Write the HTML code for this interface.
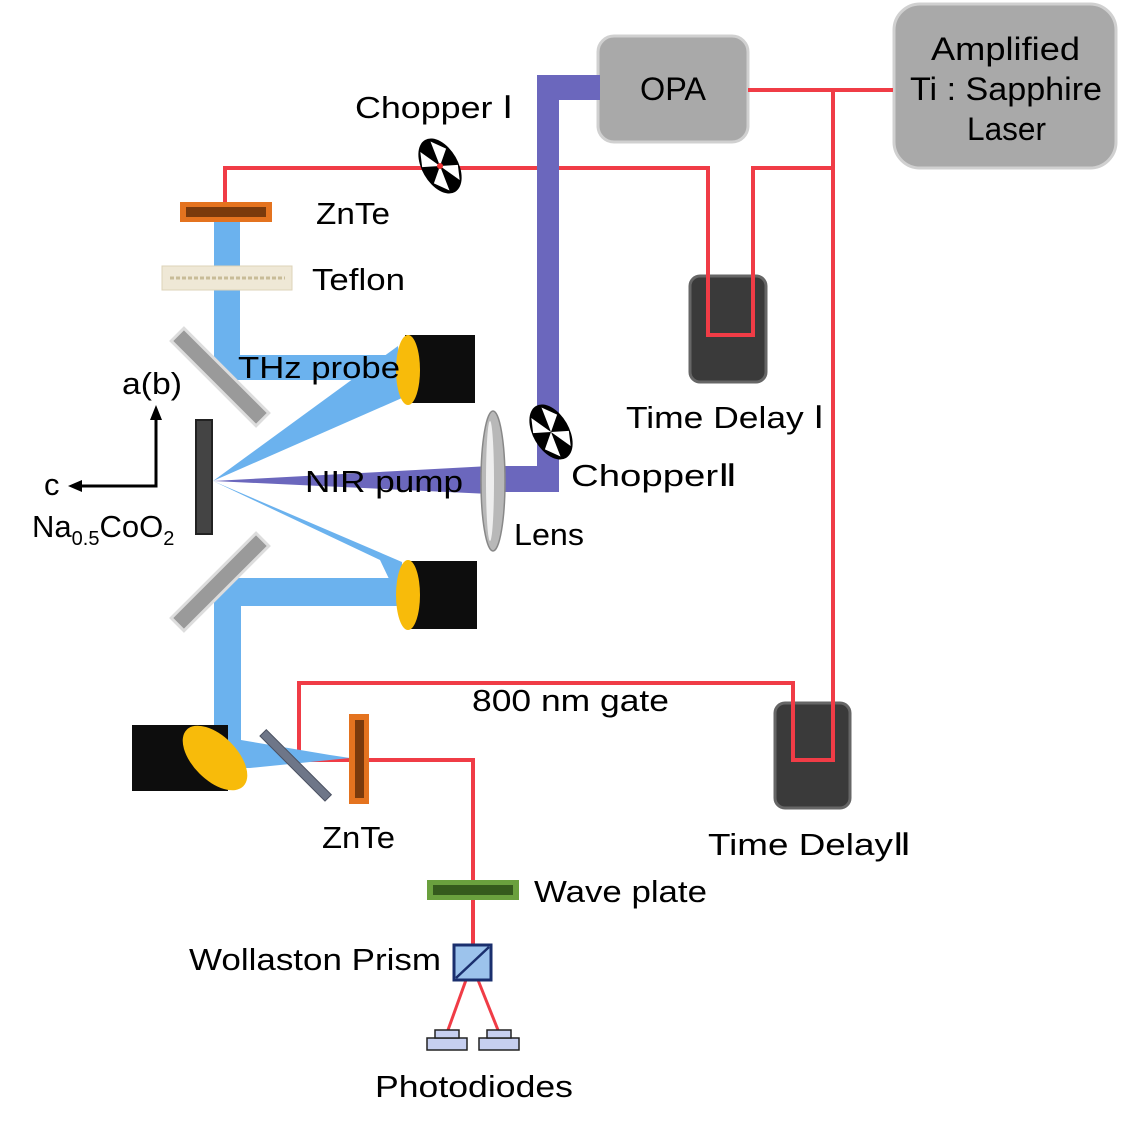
<!DOCTYPE html>
<html><head><meta charset="utf-8"><style>
html,body{margin:0;padding:0;background:#fff}
svg{display:block}
text{font-family:"Liberation Sans","DejaVu Sans",sans-serif;fill:#000}
</style></head><body>
<svg width="1134" height="1125" viewBox="0 0 1134 1125" xmlns="http://www.w3.org/2000/svg">
<rect x="598" y="36" width="150" height="106" rx="16" fill="#a9a9a9" stroke="#d0d0d0" stroke-width="3"/>
<text x="640" y="100" font-size="32" textLength="66" lengthAdjust="spacingAndGlyphs">OPA</text>
<rect x="894" y="4" width="222" height="164" rx="26" fill="#a9a9a9" stroke="#d0d0d0" stroke-width="3"/>
<text x="931" y="60" font-size="32" textLength="149" lengthAdjust="spacingAndGlyphs">Amplified</text>
<text x="910" y="100" font-size="32" textLength="192" lengthAdjust="spacingAndGlyphs">Ti : Sapphire</text>
<text x="967" y="140" font-size="32" textLength="79" lengthAdjust="spacingAndGlyphs">Laser</text>

<rect x="690" y="276" width="76" height="106" rx="10" fill="#3a3a3a" stroke="#666" stroke-width="3"/>
<rect x="775" y="703" width="75" height="105" rx="10" fill="#3a3a3a" stroke="#666" stroke-width="3"/>

<g fill="none" stroke="#f03c46" stroke-width="4">
<polyline points="748,90 893,90"/>
<polyline points="833,90 833,760 793,760 793,683 299,683 299,760 473,760 473,945"/>
<polyline points="225,205 225,168 708,168 708,335 753,335 753,168 833,168"/>
<line x1="466" y1="980" x2="448" y2="1030" stroke-width="3"/>
<line x1="478" y1="980" x2="498" y2="1030" stroke-width="3"/>
</g>

<path d="M600,75 L537,75 L537,466 L490,466 L490,492 L559,492 L559,100 L600,100 Z" fill="#6b67bd"/>
<polygon points="213,481 490,466 490,494" fill="#6b67bd"/>

<g fill="#6bb2ee">
<rect x="214" y="222" width="26" height="158"/>
<rect x="214" y="355" width="190" height="25"/>
<polygon points="213,481 398,346 402,398"/>
<polygon points="213,481 402,562 402,606 380,560"/>
<rect x="214" y="578" width="190" height="28"/>
<rect x="214" y="590" width="27" height="165"/>
<polygon points="214,745 241,740 330,755 350,758 250,768 214,768"/>
</g>

<rect x="180" y="202" width="92" height="20" fill="#e4731f"/>
<rect x="186" y="207" width="80" height="10" fill="#7a3a0c"/>
<rect x="162" y="266" width="130" height="24" fill="#efe8d6" stroke="#ddd3b8"/>
<line x1="170" y1="278" x2="285" y2="278" stroke="#c8bc98" stroke-width="3" stroke-dasharray="4 2"/>

<rect x="160" y="368" width="120" height="18" fill="#9a9a9a" stroke="#ddd" stroke-width="3" transform="rotate(45 220 377)"/>
<rect x="160" y="573" width="120" height="18" fill="#9a9a9a" stroke="#ddd" stroke-width="3" transform="rotate(-45 220 582)"/>
<rect x="196" y="420" width="16" height="114" fill="#444" stroke="#222" stroke-width="2"/>
<rect x="250" y="761" width="92" height="9" fill="#6e7688" stroke="#4a5060" transform="rotate(45 296 765)"/>

<rect x="405" y="335" width="70" height="68" fill="#0d0d0d"/>
<ellipse cx="408" cy="370" rx="12" ry="35" fill="#f8bb0a"/>
<rect x="405" y="561" width="72" height="68" fill="#0d0d0d"/>
<ellipse cx="408" cy="595" rx="12" ry="35" fill="#f8bb0a"/>
<rect x="132" y="725" width="96" height="66" fill="#0d0d0d"/>
<ellipse cx="215" cy="758" rx="22" ry="40" fill="#f8bb0a" transform="rotate(-45 215 758)"/>

<ellipse cx="493" cy="481" rx="12" ry="70" fill="#b8b8b8" stroke="#888" stroke-width="1.5"/>
<ellipse cx="490" cy="481" rx="4" ry="60" fill="#eee"/>

<g transform="translate(440,166) rotate(-30)">
<ellipse rx="18" ry="30" fill="#000"/>
<path d="M0,0 L-16,-8 L-10,-22 Z M0,0 L16,8 L10,22 Z" fill="#fff"/>
<path d="M0,0 L4,-26 L14,-12 Z M0,0 L-4,26 L-14,12 Z" fill="#fff"/>
<circle r="3" fill="#e33"/>
</g>
<g transform="translate(551,432) rotate(-30)">
<ellipse rx="18" ry="30" fill="#000"/>
<path d="M0,0 L-16,-8 L-10,-22 Z M0,0 L16,8 L10,22 Z" fill="#fff"/>
<path d="M0,0 L4,-26 L14,-12 Z M0,0 L-4,26 L-14,12 Z" fill="#fff"/>
</g>

<rect x="349" y="714" width="20" height="90" fill="#e4731f"/>
<rect x="355" y="720" width="9" height="78" fill="#7a3a0c"/>
<rect x="427" y="880" width="92" height="20" fill="#6aa03e"/>
<rect x="433" y="885" width="80" height="10" fill="#355a1d"/>
<rect x="454" y="945" width="37" height="35" fill="#9cc3ec" stroke="#1a2f6e" stroke-width="3"/>
<line x1="456" y1="978" x2="489" y2="947" stroke="#1a2f6e" stroke-width="2.5"/>
<g fill="#c6cff0" stroke="#222" stroke-width="1.5">
<rect x="427" y="1038" width="40" height="12"/><rect x="435" y="1030" width="24" height="8"/>
<rect x="479" y="1038" width="40" height="12"/><rect x="487" y="1030" width="24" height="8"/>
</g>

<polyline points="156,418 156,486 78,486" stroke="#000" stroke-width="3" fill="none"/>
<polygon points="156,405 150,420 162,420" fill="#000"/>
<polygon points="68,486 82,480 82,492" fill="#000"/>

<g font-size="31" lengthAdjust="spacingAndGlyphs">
<text x="355" y="118" textLength="158" lengthAdjust="spacingAndGlyphs">Chopper Ⅰ</text>
<text x="316" y="224" textLength="74" lengthAdjust="spacingAndGlyphs">ZnTe</text>
<text x="312" y="290" textLength="93" lengthAdjust="spacingAndGlyphs">Teflon</text>
<text x="238" y="378" textLength="162" lengthAdjust="spacingAndGlyphs">THz probe</text>
<text x="122" y="394" textLength="60" lengthAdjust="spacingAndGlyphs">a(b)</text>
<text x="44" y="495">c</text>
<text x="32" y="537">Na<tspan font-size="20" dy="8">0.5</tspan><tspan dy="-8">CoO</tspan><tspan font-size="20" dy="8">2</tspan></text>
<text x="305" y="492" textLength="158" lengthAdjust="spacingAndGlyphs">NIR pump</text>
<text x="514" y="545" textLength="70" lengthAdjust="spacingAndGlyphs">Lens</text>
<text x="571" y="486" textLength="166" lengthAdjust="spacingAndGlyphs">ChopperⅡ</text>
<text x="626" y="428" textLength="198" lengthAdjust="spacingAndGlyphs">Time Delay Ⅰ</text>
<text x="472" y="711" textLength="197" lengthAdjust="spacingAndGlyphs">800 nm gate</text>
<text x="322" y="848" textLength="73" lengthAdjust="spacingAndGlyphs">ZnTe</text>
<text x="708" y="855" textLength="203" lengthAdjust="spacingAndGlyphs">Time DelayⅡ</text>
<text x="534" y="902" textLength="173" lengthAdjust="spacingAndGlyphs">Wave plate</text>
<text x="189" y="970" textLength="252" lengthAdjust="spacingAndGlyphs">Wollaston Prism</text>
<text x="375" y="1097" textLength="198" lengthAdjust="spacingAndGlyphs">Photodiodes</text>
</g>
</svg>
</body></html>
